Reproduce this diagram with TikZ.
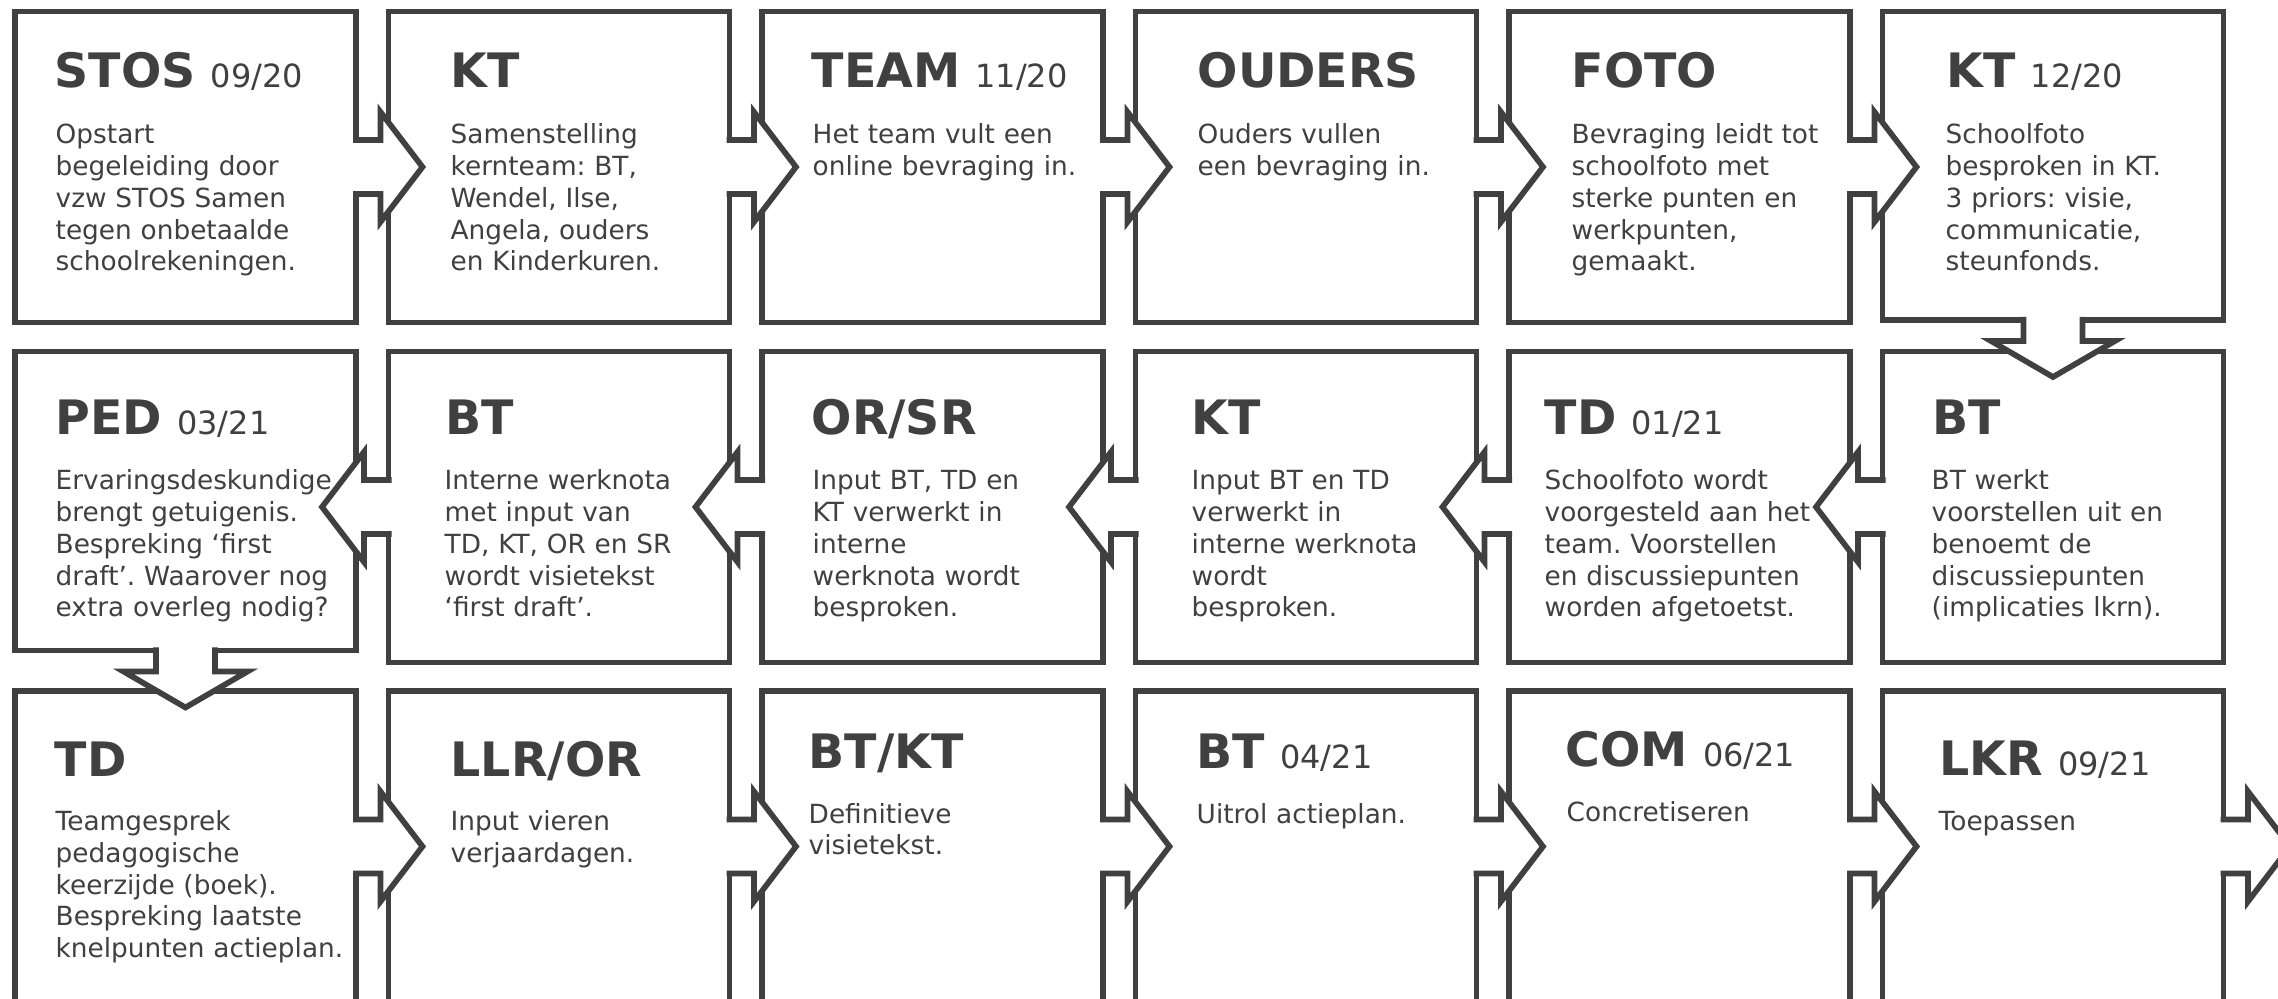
\documentclass[tikz,border=0pt]{standalone}
\usepackage{fontspec}
\setmainfont{DejaVu Sans}
\usepackage{tikz}
\usetikzlibrary{positioning, calc}
\frenchspacing

\definecolor{donker}{RGB}{64,64,64}
\newcommand{\titelfont}{\fontsize{13.5pt}{16pt}\bfseries\selectfont}
\newcommand{\tekstfont}{\fontsize{7.5pt}{9.02pt}\selectfont}
\newcommand{\maand}[1]{\hspace{1.5mm}{\fontsize{9.1pt}{11pt}\mdseries\selectfont #1}}

\begin{document}
\begin{tikzpicture}[x=0.1mm, y=-0.1mm,
		stap/.style={rectangle, draw=donker, fill=white, line width=0.57mm, minimum width=34.1mm, minimum height=31.1mm, inner sep=0pt, outer sep=0pt},
		kop/.style={anchor=base west, inner sep=0pt, text=donker, font=\titelfont},
		tekst/.style={anchor=base west, inner sep=0pt, text=donker, font=\tekstfont, align=left, text width=32mm},
		pijl/.style={draw=donker, fill=white, line width=0.57mm}]
	\useasboundingbox (0,0) rectangle (2278,999);
	\clip (0,0) rectangle (2278,999);
	\fill[white] (0,0) rectangle (2278,999);

	% rij 1
	\node[stap] (s1) at (185.5,167) {};
	\node[stap, right=3.25mm of s1] (s2) {};
	\node[stap, right=3.25mm of s2] (s3) {};
	\node[stap, right=3.25mm of s3] (s4) {};
	\node[stap, right=3.25mm of s4] (s5) {};
	\node[stap, right=3.25mm of s5.north east, anchor=north west, minimum height=30.85mm] (s6) {};
	% rij 2
	\node[stap, below=3.15mm of s6] (s7) {};
	\node[stap, left=3.25mm of s7] (s8) {};
	\node[stap, left=3.25mm of s8] (s9) {};
	\node[stap, left=3.25mm of s9] (s10) {};
	\node[stap, left=3.25mm of s10] (s11) {};
	\node[stap, left=3.25mm of s11.north west, anchor=north east, minimum height=29.9mm] (s12) {};
	% rij 3
	\node[stap, below=4.05mm of s12] (s13) {};
	\node[stap, right=3.25mm of s13] (s14) {};
	\node[stap, right=3.25mm of s14] (s15) {};
	\node[stap, right=3.25mm of s15] (s16) {};
	\node[stap, right=3.25mm of s16] (s17) {};
	\node[stap, right=3.25mm of s17] (s18) {};
	\coordinate (uit) at ($(s18.east)+(32.5,0)$);

	% pijlen
	\foreach \a/\b in {s1/s2.west, s2/s3.west, s3/s4.west, s4/s5.west, s5/s6.west, s13/s14.west, s14/s15.west, s15/s16.west, s16/s17.west, s17/s18.west, s18/uit}
		\draw[pijl] ($(\a.east)+(-3,-27)$) -- ($(\b |- \a.east)+(-8,-27)$) -- ($(\b |- \a.east)+(-8,-55)$) -- ($(\b |- \a.east)+(34,0)$) -- ($(\b |- \a.east)+(-8,55)$) -- ($(\b |- \a.east)+(-8,27)$) -- ($(\a.east)+(-3,27)$);
	\foreach \a/\b in {s7/s8.east, s8/s9.east, s9/s10.east, s10/s11.east, s11/s12.east}
		\draw[pijl] ($(\a.west)+(3,-27)$) -- ($(\b |- \a.west)+(8,-27)$) -- ($(\b |- \a.west)+(8,-55)$) -- ($(\b |- \a.west)+(-34,0)$) -- ($(\b |- \a.west)+(8,55)$) -- ($(\b |- \a.west)+(8,27)$) -- ($(\a.west)+(3,27)$);
	\foreach \a in {s6, s12}
		\draw[pijl] ($(\a.south)+(-29.5,-3)$) -- ($(\a.south)+(-29.5,21)$) -- ($(\a.south)+(-62,21)$) -- ($(\a.south)+(0,57)$) -- ($(\a.south)+(62,21)$) -- ($(\a.south)+(29.5,21)$) -- ($(\a.south)+(29.5,-3)$);

	% teksten rij 1
	\node[kop] (kop1) at (54,87.5) {STOS\maand{09/20}};
	\node[tekst] (tekst1) at (55,144) {Opstart\\begeleiding door\\vzw STOS Samen\\tegen onbetaalde\\schoolrekeningen.};
	\node[kop] (kop2) at (450,87.5) {KT};
	\node[tekst] (tekst2) at (450,144) {Samenstelling\\kernteam: BT,\\Wendel, Ilse,\\Angela, ouders\\en Kinderkuren.};
	\node[kop] (kop3) at (811,87.5) {TEAM\maand{11/20}};
	\node[tekst] (tekst3) at (812,144) {Het team vult een\\online bevraging in.};
	\node[kop] (kop4) at (1197,87.5) {OUDERS};
	\node[tekst] (tekst4) at (1197,144) {Ouders vullen\\een bevraging in.};
	\node[kop] (kop5) at (1571,87.5) {FOTO};
	\node[tekst] (tekst5) at (1571,144) {Bevraging leidt tot\\schoolfoto met\\sterke punten en\\werkpunten,\\gemaakt.};
	\node[kop] (kop6) at (1946,87.5) {KT\maand{12/20}};
	\node[tekst] (tekst6) at (1945,144) {Schoolfoto\\besproken in KT.\\3 priors: visie,\\communicatie,\\steunfonds.};

	% teksten rij 2
	\node[kop] (kop7) at (1932,435) {BT};
	\node[tekst] (tekst7) at (1931,490) {BT werkt\\voorstellen uit en\\benoemt de\\discussiepunten\\(implicaties lkrn).};
	\node[kop] (kop8) at (1544,435) {TD\maand{01/21}};
	\node[tekst] (tekst8) at (1544,490) {Schoolfoto wordt\\voorgesteld aan het\\team. Voorstellen\\en discussiepunten\\worden afgetoetst.};
	\node[kop] (kop9) at (1191,435) {KT};
	\node[tekst] (tekst9) at (1191,490) {Input BT en TD\\verwerkt in\\interne werknota\\wordt\\besproken.};
	\node[kop] (kop10) at (811,435) {OR/SR};
	\node[tekst] (tekst10) at (812,490) {Input BT, TD en\\KT verwerkt in\\interne\\werknota wordt\\besproken.};
	\node[kop] (kop11) at (445,435) {BT};
	\node[tekst] (tekst11) at (444,490) {Interne werknota\\met input van\\TD, KT, OR en SR\\wordt visietekst\\‘first draft’.};
	\node[kop] (kop12) at (55,435) {PED\maand{03/21}};
	\node[tekst] (tekst12) at (55,490) {Ervaringsdeskundige\\brengt getuigenis.\\Bespreking ‘first\\draft’. Waarover nog\\extra overleg nodig?};

	% teksten rij 3
	\node[kop] (kop13) at (54,776.7) {TD};
	\node[tekst] (tekst13) at (55,830.7) {Teamgesprek\\pedagogische\\keerzijde (boek).\\Bespreking laatste\\knelpunten actieplan.};
	\node[kop] (kop14) at (450,776.7) {LLR/OR};
	\node[tekst] (tekst14) at (450,830.7) {Input vieren\\verjaardagen.};
	\node[kop] (kop15) at (808,768.3) {BT/KT};
	\node[tekst] (tekst15) at (808,823.3) {Definitieve\\visietekst.};
	\node[kop] (kop16) at (1196,768.3) {BT\maand{04/21}};
	\node[tekst] (tekst16) at (1196,824) {Uitrol actieplan.};
	\node[kop] (kop17) at (1565,766.7) {COM\maand{06/21}};
	\node[tekst] (tekst17) at (1566,821.7) {Concretiseren};
	\node[kop] (kop18) at (1939,776) {LKR\maand{09/21}};
	\node[tekst] (tekst18) at (1938,830.7) {Toepassen};
\end{tikzpicture}
\end{document}
